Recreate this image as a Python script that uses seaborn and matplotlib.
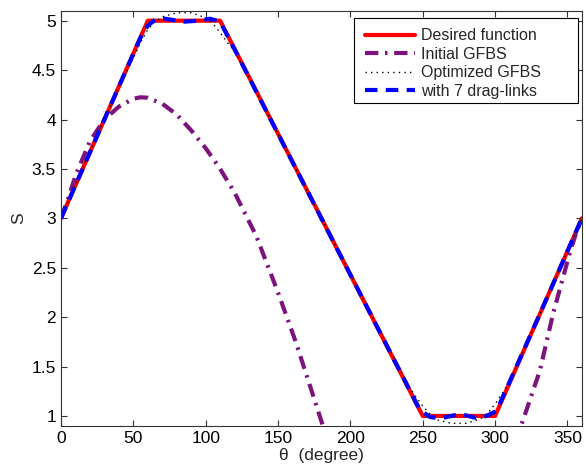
import numpy as np
import pandas as pd
import seaborn as sns
import matplotlib.pyplot as plt
from matplotlib.patches import Rectangle

# Desired function (piecewise linear)
theta_desired = [0, 60, 110, 250, 300, 360]
s_desired = [3.0, 5.0, 5.0, 1.0, 1.0, 3.0]

# Initial GFBS
theta_initial = [0, 5, 10, 20, 30, 40, 50, 55, 60, 70, 80, 90, 100, 110, 120,
                 135, 150, 162, 170, 181, 190, 210, 250, 290, 305, 318, 331,
                 340, 352, 356, 360]
s_initial = [3.0, 3.2, 3.43, 3.78, 4.0, 4.13, 4.21, 4.225, 4.22, 4.16, 4.05,
             3.89, 3.71, 3.50, 3.26, 2.82, 2.25, 1.76, 1.40, 0.90, 0.45, -0.4,
             -1.2, -0.5, 0.2, 0.90, 1.46, 2.03, 2.67, 2.85, 3.0]

# Optimized GFBS
theta_opt = [0, 20, 40, 50, 55, 60, 65, 70, 80, 90, 100, 105, 110, 115, 120,
             130, 180, 240, 245, 250, 255, 260, 270, 280, 290, 295, 300, 305,
             310, 320, 360]
s_opt = [3.0, 3.67, 4.33, 4.62, 4.78, 4.91, 4.99, 5.04, 5.08, 5.08, 5.03, 4.97,
         4.88, 4.78, 4.69, 4.42, 3.0, 1.31, 1.20, 1.10, 1.02, 0.96, 0.925, 0.925,
         0.97, 1.03, 1.12, 1.23, 1.35, 1.67, 3.0]

# with 7 drag-links
theta_drag = [0, 30, 55, 60, 66, 72, 85, 95, 103, 110, 120, 180, 240, 248, 255,
              262, 276, 288, 294, 301, 330, 360]
s_drag = [3.0, 4.0, 4.83, 4.95, 5.02, 5.02, 4.99, 5.0, 5.02, 4.99, 4.71, 3.0,
          1.29, 1.06, 0.99, 0.975, 1.02, 0.975, 1.0, 1.05, 2.0, 3.0]

series = [
    ('Desired function', theta_desired, s_desired, dict(color='red', lw=3, linestyle='-')),
    ('Initial GFBS', theta_initial, s_initial, dict(color='#7d137d', lw=3, dashes=(3.2, 1.6, 0.6, 1.6))),
    ('Optimized GFBS', theta_opt, s_opt, dict(color='black', lw=1, dashes=(1, 3))),
    ('with 7 drag-links', theta_drag, s_drag, dict(color='blue', lw=3, dashes=(3, 2))),
]

sns.set_style("ticks")
plt.rcParams['font.family'] = ['Liberation Sans', 'DejaVu Sans']

fig = plt.figure(figsize=(5.86, 4.70), dpi=100)
ax = fig.add_axes([0.104, 0.094, 0.889, 0.883])

for label, x, y, style in series:
    df = pd.DataFrame({'theta': x, 'S': y})
    sns.lineplot(data=df, x='theta', y='S', ax=ax, label=label, sort=False, **style)

ax.set_xlim(0, 360)
ax.set_ylim(0.9, 5.1)
ax.set_xticks(np.arange(0, 351, 50))
ax.set_yticks([1, 1.5, 2, 2.5, 3, 3.5, 4, 4.5, 5])
ax.set_yticklabels(['1', '1.5', '2', '2.5', '3', '3.5', '4', '4.5', '5'])
ax.tick_params(direction='in', length=4, top=True, right=True, labelsize=12.5,
               color='#333333', labelcolor='black', width=0.8)
for sp in ax.spines.values():
    sp.set_color('#333333')
    sp.set_linewidth(0.8)

ax.set_xlabel('θ  (degree)', fontsize=12.5, labelpad=2)
ax.set_ylabel('S', fontsize=12.5, labelpad=4)

# legend without its own frame; MATLAB-style box drawn around it
leg = ax.legend(loc='upper left', bbox_to_anchor=(0.610, 0.957),
                bbox_transform=fig.transFigure, fontsize=11.5, handlelength=3.1,
                frameon=False, borderpad=0.0, labelspacing=0.22,
                handletextpad=0.4)
box = Rectangle((0.604, 0.781), 0.382, 0.181, transform=fig.transFigure,
                fill=True, facecolor='white', edgecolor='black', lw=0.8,
                zorder=4)
ax.add_patch(box)
box.set_clip_on(False)
leg.set_zorder(5)

fig.savefig('out.png', dpi=100)
